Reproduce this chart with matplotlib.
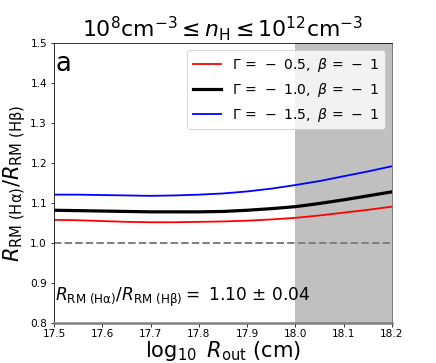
import matplotlib
matplotlib.use('Agg')
import matplotlib.pyplot as plt
import numpy as np

# log10 R_out grid and ratio curves
log_rout = [17.5, 17.55, 17.6, 17.65, 17.7, 17.75, 17.8, 17.85,
            17.9, 17.95, 18.0, 18.05, 18.1, 18.15, 18.2]
ratio_g05 = [1.058, 1.057, 1.055, 1.053, 1.052, 1.052, 1.053, 1.054,
             1.056, 1.059, 1.063, 1.069, 1.076, 1.083, 1.091]
ratio_g10 = [1.082, 1.081, 1.080, 1.079, 1.078, 1.078, 1.078, 1.079,
             1.082, 1.086, 1.091, 1.099, 1.108, 1.118, 1.128]
ratio_g15 = [1.121, 1.121, 1.120, 1.119, 1.118, 1.119, 1.121, 1.124,
             1.129, 1.136, 1.145, 1.155, 1.167, 1.179, 1.192]
labels = [r'$\Gamma\,=\,-\ 0.5,\ \beta\,=\,-\ 1$',
          r'$\Gamma\,=\,-\ 1.0,\ \beta\,=\,-\ 1$',
          r'$\Gamma\,=\,-\ 1.5,\ \beta\,=\,-\ 1$']
shade_range = (18.0, 18.2)
mean_ratio, err_ratio = 1.10, 0.04

fig = plt.figure(figsize=(436 / 72, 363 / 72), dpi=72)
ax = fig.add_axes([0.124, 0.110, 0.775, 0.7715])

ax.axvspan(shade_range[0], shade_range[1], color='#c0c0c0', zorder=0)
ax.axhline(1.0, color='grey', ls='--', lw=2, zorder=1)
ax.axhline(0.8, color='grey', lw=2.5, zorder=3, clip_on=False)

ax.plot(log_rout, ratio_g05, color='red', lw=1.8, label=labels[0])
ax.plot(log_rout, ratio_g10, color='black', lw=3.2, label=labels[1])
ax.plot(log_rout, ratio_g15, color='blue', lw=1.8, label=labels[2])

ax.set_xlim(17.5, 18.2)
ax.set_ylim(0.8, 1.5)
ax.set_xticks(np.arange(17.5, 18.21, 0.1))
ax.set_xticklabels([f'{v:.1f}' for v in np.arange(17.5, 18.21, 0.1)])
ax.tick_params(labelsize=10.5)
ax.tick_params(axis='x', pad=2)
ax.spines['right'].set_color('#606060')

ax.set_xlabel(r'$\log_{10}\ R_{\rm out}$ (cm)', fontsize=21, labelpad=0)
ax.set_ylabel(r'$R_{\rm RM\ (H\alpha)}/R_{\rm RM\ (H\beta)}$', fontsize=21,
              labelpad=2)
ax.set_title(r'$10^8{\rm cm}^{-3}\leq n_{\rm H}\leq 10^{12}{\rm cm}^{-3}$',
             fontsize=22, pad=5)

ax.text(17.502, 1.448, 'a', fontsize=26, va='center', ha='left')
ax.text(17.502, 0.865,
        r'$R_{\rm RM\ (H\alpha)}/R_{\rm RM\ (H\beta)} =$' +
        f' {mean_ratio:.2f} \u00b1 {err_ratio:.2f}',
        fontsize=17, va='center', ha='left')

ax.legend(loc='upper right', fontsize=14, handlelength=2.0)

fig.savefig('out.png', dpi=72)
